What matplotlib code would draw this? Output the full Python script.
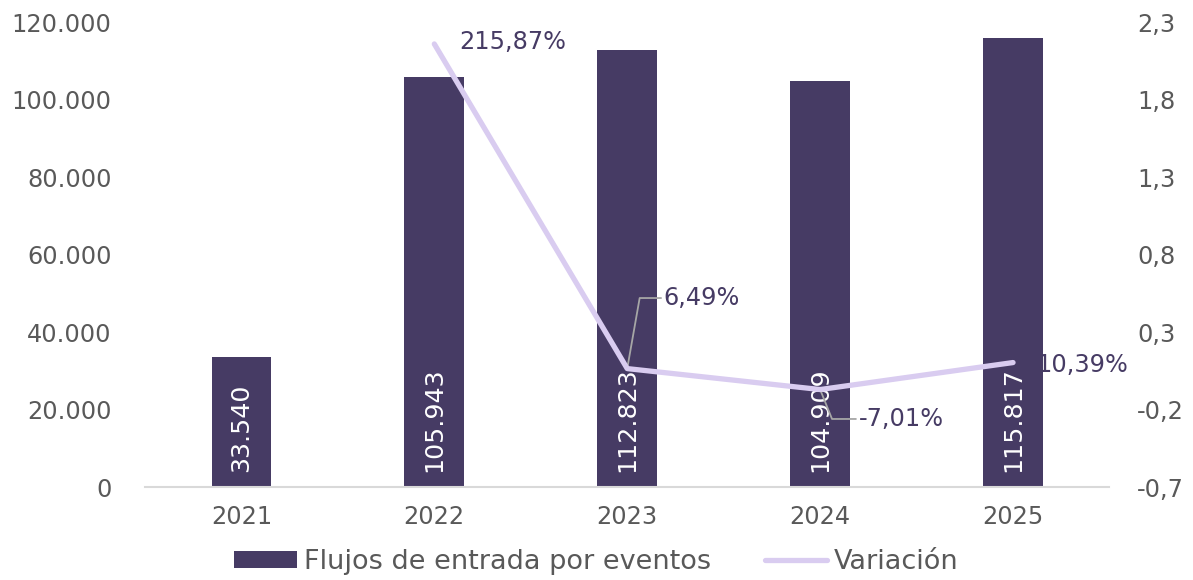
import matplotlib
matplotlib.use("Agg")
import matplotlib.pyplot as plt
from matplotlib.lines import Line2D
from matplotlib.patches import Patch

years = ["2021", "2022", "2023", "2024", "2025"]
flujos = [33540, 105943, 112823, 104909, 115817]
flujos_labels = ["33.540", "105.943", "112.823", "104.909", "115.817"]
var_years_idx = [1, 2, 3, 4]
variacion = [2.1587, 0.0649, -0.0701, 0.1039]
var_labels = ["215,87%", "6,49%", "-7,01%", "10,39%"]
left_ticks = [0, 20000, 40000, 60000, 80000, 100000, 120000]
left_tick_labels = ["0", "20.000", "40.000", "60.000", "80.000", "100.000", "120.000"]
right_ticks = [-0.7, -0.2, 0.3, 0.8, 1.3, 1.8, 2.3]
right_tick_labels = ["-0,7", "-0,2", "0,3", "0,8", "1,3", "1,8", "2,3"]

plt.rcParams['font.family'] = ['DejaVu Sans']
bar_color = "#463B64"
line_color = "#D9CCF0"
tick_color = "#595959"
ann_color = "#463B64"
fs = 17.3

fig = plt.figure(figsize=(11.93, 5.8), dpi=100)
ax = fig.add_axes([0.1215, 0.160, 0.8085, 0.802])
x = list(range(len(years)))
ax.bar(x, flujos, width=0.31, color=bar_color, zorder=2)
ax.set_xlim(-0.5, 4.5)
ax.set_ylim(0, 120000)
ax.set_yticks(left_ticks)
ax.set_yticklabels(left_tick_labels)
ax.set_xticks(x)
ax.set_xticklabels(years)
for s in ["top", "right", "left"]:
    ax.spines[s].set_visible(False)
ax.spines["bottom"].set_color("#D9D9D9")
ax.spines["bottom"].set_linewidth(1.5)
ax.tick_params(axis="both", length=0, labelsize=fs, colors=tick_color)
ax.tick_params(axis="x", pad=13)
ax.tick_params(axis="y", pad=24)

for xi, lab in zip(x, flujos_labels):
    ax.text(xi, 4000, lab, rotation=90, ha="center", va="bottom",
            color="white", fontsize=18.3, zorder=3)

ax2 = ax.twinx()
ax2.set_ylim(-0.7, 2.3)
ax2.set_yticks(right_ticks)
ax2.set_yticklabels(right_tick_labels)
for s in ["top", "right", "left", "bottom"]:
    ax2.spines[s].set_visible(False)
ax2.tick_params(axis="y", length=0, labelsize=fs, colors=tick_color, pad=20)
ax2.plot(var_years_idx, variacion, color=line_color, linewidth=3.8, zorder=4,
         solid_capstyle="round")

# annotations
ax2.annotate(var_labels[0], xy=(1, variacion[0]), xytext=(1.13, 2.17),
             color=ann_color, fontsize=fs, va="center", ha="left")
ax2.annotate(var_labels[1], xy=(2, variacion[1]), xytext=(2.19, 0.52),
             color=ann_color, fontsize=fs, va="center", ha="left",
             arrowprops=dict(arrowstyle="-", color="#A6A6A6", lw=1.3,
                             connectionstyle="angle,angleA=0,angleB=80,rad=0",
                             shrinkA=0, shrinkB=0))
ax2.annotate(var_labels[2], xy=(3, variacion[2]), xytext=(3.2, -0.26),
             color=ann_color, fontsize=fs, va="center", ha="left",
             arrowprops=dict(arrowstyle="-", color="#A6A6A6", lw=1.3,
                             connectionstyle="angle,angleA=0,angleB=-68,rad=0",
                             shrinkA=0, shrinkB=0))
ax2.annotate(var_labels[3], xy=(4, variacion[3]), xytext=(4.12, 0.09),
             color=ann_color, fontsize=fs, va="center", ha="left")

handles = [Patch(facecolor=bar_color, label="Flujos de entrada por eventos"),
           Line2D([0], [0], color=line_color, lw=3.8, label="Variación",
                  solid_capstyle="round")]
leg = fig.legend(handles=handles, loc="lower center", ncol=2, frameon=False,
                 fontsize=19.5, bbox_to_anchor=(0.5, -0.033), handlelength=2.3,
                 columnspacing=2.0, handletextpad=0.25, handleheight=0.6)
for t in leg.get_texts():
    t.set_color(tick_color)

fig.savefig("out.png", dpi=100)
